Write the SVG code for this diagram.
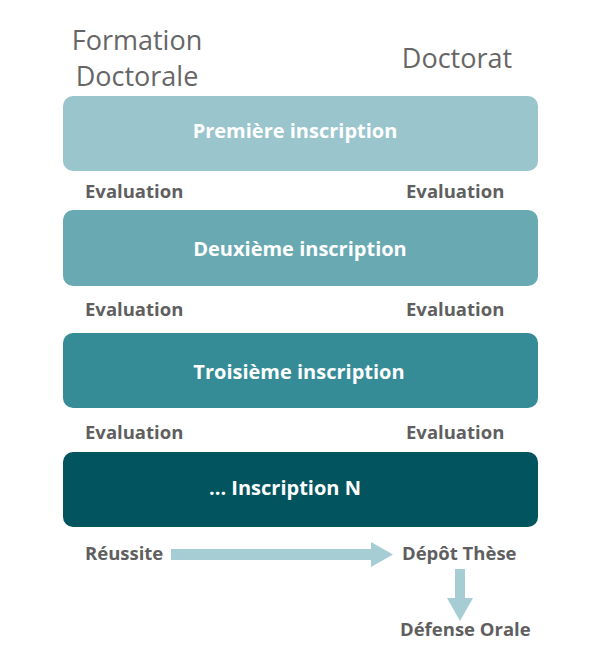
<svg xmlns="http://www.w3.org/2000/svg" width="596" height="657" viewBox="0 0 596 657">
<style>
.hdr{font-family:"Open Sans","Liberation Sans",sans-serif;font-size:27px;fill:#666;text-anchor:middle}
.lbl{font-family:"Open Sans","Liberation Sans",sans-serif;font-size:18.5px;font-weight:bold;fill:#5f5f5f}
.box{font-family:"Open Sans","Liberation Sans",sans-serif;font-size:20px;font-weight:bold;fill:#fff;text-anchor:middle}
.arr{fill:#a6cdd3}
</style>
<rect width="596" height="657" fill="#fff"/>
<g id="headers">
<text class="hdr" x="137" y="50">Formation</text>
<text class="hdr" x="137" y="86">Doctorale</text>
<text class="hdr" x="457" y="68">Doctorat</text>
</g>
<g id="n1"><rect x="63" y="96" width="475" height="75" rx="10" fill="#9ac5cc"/><text class="box" x="295" y="138">Première inscription</text></g>
<g id="n2"><rect x="63" y="210" width="475" height="76" rx="10" fill="#68a9b2"/><text class="box" x="300" y="256">Deuxième inscription</text></g>
<g id="n3"><rect x="63" y="333" width="475" height="75" rx="10" fill="#358c96"/><text class="box" x="299" y="379">Troisième inscription</text></g>
<g id="n4"><rect x="63" y="452" width="475" height="75" rx="10" fill="#02545e"/><text class="box" x="285" y="495">... Inscription N</text></g>
<g id="evals">
<text class="lbl" x="85" y="198">Evaluation</text><text class="lbl" x="406" y="198">Evaluation</text>
<text class="lbl" x="85" y="316">Evaluation</text><text class="lbl" x="406" y="316">Evaluation</text>
<text class="lbl" x="85" y="439">Evaluation</text><text class="lbl" x="406" y="439">Evaluation</text>
</g>
<g id="reussite"><text class="lbl" x="85" y="560">Réussite</text></g>
<g id="depot"><text class="lbl" x="402" y="560">Dépôt Thèse</text></g>
<g id="defense"><text class="lbl" x="400" y="636">Défense Orale</text></g>
<g id="connectors">
<polygon class="arr" points="171,549 371,549 371,542 393,554.5 371,567 371,560 171,560"/>
<polygon class="arr" points="455,569 465,569 465,598 473,598 460,621 447,598 455,598"/>
</g>
</svg>
